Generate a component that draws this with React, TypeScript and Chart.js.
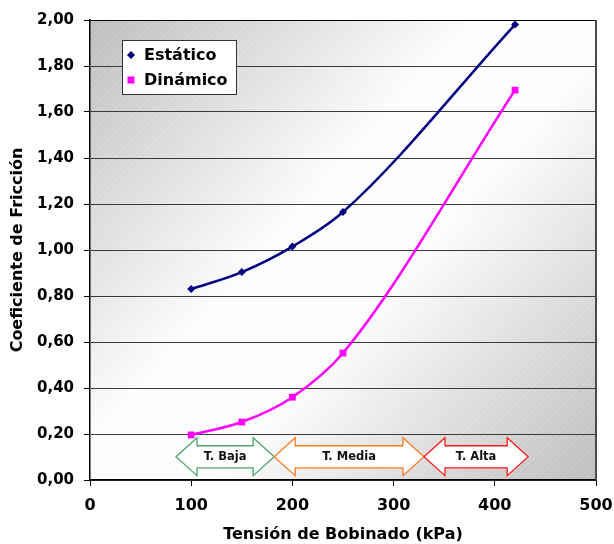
import React, { useEffect, useRef } from 'react';
import { Chart, registerables } from 'chart.js';

Chart.register(...registerables);

// ---- data ----
const tensionKPa = [100, 150, 200, 250, 420];
const coefEstatico = [0.83, 0.904, 1.015, 1.165, 1.98];
const coefDinamico = [0.196, 0.252, 0.36, 0.552, 1.695];
const seriesNames = ['Estático', 'Dinámico'];
const yTickLabels = ['0,00', '0,20', '0,40', '0,60', '0,80', '1,00', '1,20', '1,40', '1,60', '1,80', '2,00'];
const xTickLabels = ['0', '100', '200', '300', '400', '500'];
const zoneNames = ['T. Baja', 'T. Media', 'T. Alta'];
const zoneFrom = [85, 182, 330];
const zoneTo = [182, 330, 433];

const FONT = "'DejaVu Sans', Verdana, sans-serif";
const NAVY = '#000080';
const MAGENTA = '#ff00ff';
const zoneColors = ['#4fa46f', '#ff7a22', '#ff1a1a'];

const backgroundPlugin = {
  id: 'plotBackground',
  beforeDraw(chart: any) {
    const { ctx, chartArea: a } = chart;
    ctx.save();
    const g = ctx.createLinearGradient(a.left, a.top, a.right, a.bottom);
    g.addColorStop(0, '#bdbdbd');
    g.addColorStop(0.42, '#fdfdfd');
    g.addColorStop(0.58, '#fdfdfd');
    g.addColorStop(1, '#bdbdbd');
    ctx.fillStyle = g;
    ctx.fillRect(a.left, a.top, a.right - a.left, a.bottom - a.top);
    ctx.beginPath();
    ctx.rect(a.left, a.top, a.right - a.left, a.bottom - a.top);
    ctx.clip();
    ctx.beginPath();
    const h = a.bottom - a.top;
    for (let s = -h; s < a.right - a.left; s += 6) {
      ctx.moveTo(a.left + s, a.bottom);
      ctx.lineTo(a.left + s + h, a.top);
    }
    ctx.strokeStyle = 'rgba(255,255,255,0.22)';
    ctx.lineWidth = 1;
    ctx.stroke();
    ctx.restore();
  },
};

const zonesPlugin = {
  id: 'zones',
  afterDatasetsDraw(chart: any) {
    const { ctx } = chart;
    const xs = chart.scales.x;
    const ys = chart.scales.y;
    const yHT = ys.getPixelForValue(0.184);
    const yST = ys.getPixelForValue(0.149);
    const ySB = ys.getPixelForValue(0.053);
    const yHB = ys.getPixelForValue(0.019);
    const yMid = (yHT + yHB) / 2;
    const head = 21;
    ctx.save();
    zoneNames.forEach((name, i) => {
      const x0 = xs.getPixelForValue(zoneFrom[i]);
      const x1 = xs.getPixelForValue(zoneTo[i]);
      ctx.beginPath();
      ctx.moveTo(x0, yMid);
      ctx.lineTo(x0 + head, yHT);
      ctx.lineTo(x0 + head, yST);
      ctx.lineTo(x1 - head, yST);
      ctx.lineTo(x1 - head, yHT);
      ctx.lineTo(x1, yMid);
      ctx.lineTo(x1 - head, yHB);
      ctx.lineTo(x1 - head, ySB);
      ctx.lineTo(x0 + head, ySB);
      ctx.lineTo(x0 + head, yHB);
      ctx.closePath();
      ctx.fillStyle = '#ffffff';
      ctx.fill();
      ctx.strokeStyle = zoneColors[i];
      ctx.lineWidth = 1.3;
      ctx.stroke();
      ctx.fillStyle = '#111111';
      ctx.font = `bold 11.5px ${FONT}`;
      ctx.textAlign = 'center';
      ctx.textBaseline = 'middle';
      ctx.fillText(name, (x0 + x1) / 2, yMid);
    });
    ctx.restore();
  },
};

const framePlugin = {
  id: 'frameAndLegend',
  afterDraw(chart: any) {
    const { ctx, chartArea: a } = chart;
    ctx.save();
    // top border
    ctx.beginPath();
    ctx.moveTo(a.left, a.top + 0.5);
    ctx.lineTo(a.right, a.top + 0.5);
    ctx.strokeStyle = '#000000';
    ctx.lineWidth = 1;
    ctx.stroke();
    // right border
    ctx.beginPath();
    ctx.moveTo(a.right, a.top);
    ctx.lineTo(a.right, a.bottom);
    ctx.strokeStyle = '#4a4a4a';
    ctx.lineWidth = 2;
    ctx.stroke();

    // legend box
    const bx = 122, by = 40, bw = 114, bh = 54;
    ctx.fillStyle = '#ffffff';
    ctx.fillRect(bx, by, bw, bh);
    ctx.strokeStyle = '#333333';
    ctx.lineWidth = 1;
    ctx.strokeRect(bx + 0.5, by + 0.5, bw, bh);

    const mx = 131;
    const rows = [55, 80];
    // diamond
    ctx.fillStyle = NAVY;
    ctx.beginPath();
    ctx.moveTo(mx, rows[0] - 4);
    ctx.lineTo(mx + 4, rows[0]);
    ctx.lineTo(mx, rows[0] + 4);
    ctx.lineTo(mx - 4, rows[0]);
    ctx.closePath();
    ctx.fill();
    // square
    ctx.fillStyle = MAGENTA;
    ctx.fillRect(mx - 3.5, rows[1] - 3.5, 7, 7);

    ctx.fillStyle = '#000000';
    ctx.font = `bold 16px ${FONT}`;
    ctx.textAlign = 'left';
    ctx.textBaseline = 'middle';
    ctx.fillText(seriesNames[0], 144, rows[0] + 1);
    ctx.fillText(seriesNames[1], 144, rows[1] + 1);
    ctx.restore();
  },
};

export default function App() {
  const ref = useRef<HTMLCanvasElement | null>(null);

  useEffect(() => {
    if (!ref.current) return;
    const chart = new Chart(ref.current, {
      type: 'line',
      data: {
        datasets: [
          {
            label: seriesNames[0],
            data: tensionKPa.map((x, i) => ({ x, y: coefEstatico[i] })),
            borderColor: NAVY,
            backgroundColor: NAVY,
            borderWidth: 2.5,
            pointStyle: 'rectRot',
            pointRadius: 4,
            pointBorderWidth: 0,
            cubicInterpolationMode: 'monotone',
            fill: false,
          },
          {
            label: seriesNames[1],
            data: tensionKPa.map((x, i) => ({ x, y: coefDinamico[i] })),
            borderColor: MAGENTA,
            backgroundColor: MAGENTA,
            borderWidth: 2.5,
            pointStyle: 'rect',
            pointRadius: 4.8,
            pointBorderWidth: 0,
            cubicInterpolationMode: 'monotone',
            fill: false,
          },
        ],
      },
      options: {
        responsive: false,
        animation: false,
        layout: { padding: { left: 0, top: 20, right: 18, bottom: 0 } },
        plugins: {
          legend: { display: false },
          tooltip: { enabled: false },
        },
        scales: {
          x: {
            type: 'linear',
            min: 0,
            max: 500,
            ticks: {
              stepSize: 100,
              color: '#000',
              padding: 10,
              maxRotation: 0,
              font: { family: FONT, size: 16, weight: 'bold' },
              callback: (v: any) => xTickLabels[Math.round(Number(v) / 100)],
            },
            grid: {
              display: true,
              drawOnChartArea: false,
              drawTicks: true,
              tickLength: 6,
              color: '#000',
            },
            border: { display: true, color: '#000', width: 1.5 },
            title: {
              display: true,
              text: 'Tensión de Bobinado (kPa)',
              color: '#000',
              font: { family: FONT, size: 16, weight: 'bold' },
              padding: { top: 2, bottom: 0 },
            },
            afterFit: (scale: any) => {
              scale.height = 64;
              scale.paddingLeft = 0;
              scale.paddingRight = 0;
            },
          },
          y: {
            type: 'linear',
            min: 0,
            max: 2,
            ticks: {
              stepSize: 0.2,
              color: '#000',
              padding: 10,
              font: { family: FONT, size: 15, weight: 'bold' },
              callback: (v: any) => yTickLabels[Math.round(Number(v) / 0.2)],
            },
            grid: {
              color: '#3a3a3a',
              lineWidth: 1,
              tickLength: 6,
              tickColor: '#000',
            },
            border: { display: true, color: '#000', width: 1.5 },
            title: {
              display: true,
              text: 'Coeficiente de Fricción',
              color: '#000',
              font: { family: FONT, size: 16, weight: 'bold' },
              padding: { top: 8, bottom: 0 },
            },
            afterFit: (scale: any) => {
              scale.width = 90;
              scale.paddingTop = 0;
              scale.paddingBottom = 0;
            },
          },
        },
      } as any,
      plugins: [backgroundPlugin, zonesPlugin, framePlugin],
    });
    return () => chart.destroy();
  }, []);

  return (
    <div style={{ position: 'fixed', left: 0, top: 0, width: 614, height: 544, background: '#fff' }}>
      <canvas ref={ref} width={614} height={544} style={{ display: 'block', width: 614, height: 544 }} />
    </div>
  );
}
